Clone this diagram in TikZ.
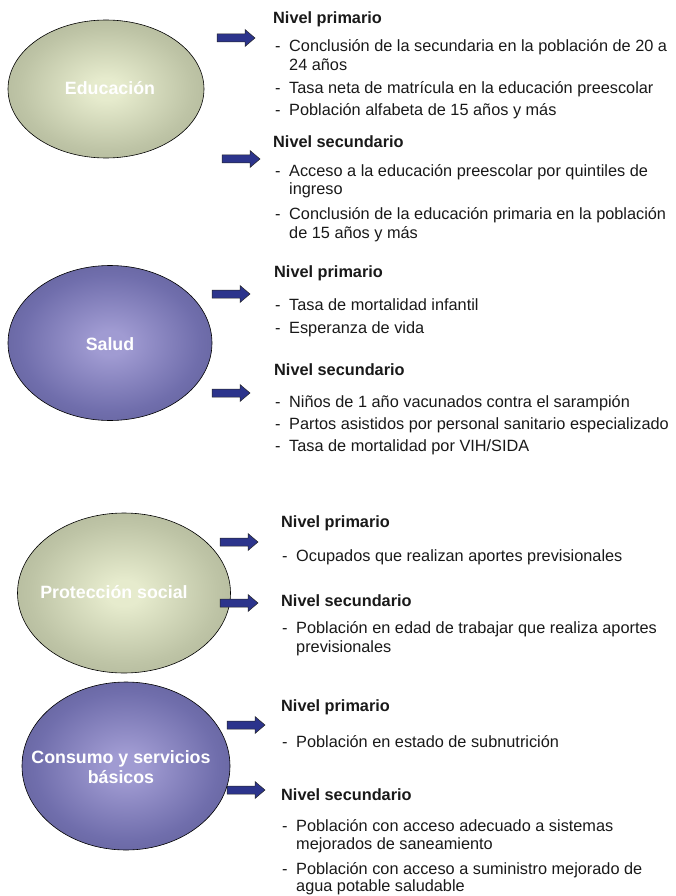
\documentclass[tikz,border=0pt]{standalone}
\usepackage{fontspec}
\setmainfont{Liberation Sans}
\usetikzlibrary{shapes.geometric}
\definecolor{olvIn}{RGB}{230,235,205}
\definecolor{olvMid}{RGB}{190,196,166}
\definecolor{olvOut}{RGB}{160,166,138}
\definecolor{purIn}{RGB}{160,155,210}
\definecolor{purMid}{RGB}{112,110,172}
\definecolor{purOut}{RGB}{84,84,136}
\definecolor{arrowblue}{RGB}{44,52,140}
\definecolor{txt}{RGB}{25,25,25}
\pgfdeclareradialshading{olvsh}{\pgfpoint{0bp}{0bp}}{color(0bp)=(olvIn); color(4bp)=(olvIn); color(22bp)=(olvMid); color(40bp)=(olvOut); color(50bp)=(olvOut)}
\pgfdeclareradialshading{pursh}{\pgfpoint{0bp}{0bp}}{color(0bp)=(purIn); color(4bp)=(purIn); color(22bp)=(purMid); color(40bp)=(purOut); color(50bp)=(purOut)}
\newcommand\bkarr[2]{\filldraw[arrowbox] (#1,#2) ++(0,-4) -- ++(28,0) -- ++(0,-4.5) -- ++(10,8.5) -- ++(-10,8.5) -- ++(0,-4.5) -- ++(-28,0) -- cycle;}
\newcommand\itm[1]{\makebox[14pt][l]{-}#1}
\begin{document}
\begin{tikzpicture}[x=1pt,y=-1pt,
  hd/.style={anchor=base west, inner sep=0, font=\fontsize{16.3}{19}\selectfont\bfseries, text=txt},
  it/.style={anchor=base west, inner sep=0, font=\fontsize{16.3}{19}\selectfont, text=txt},
  bub/.style={ellipse, draw=black, line width=0.6pt, inner sep=0},
  olv/.style={bub, shading=olvsh},
  pur/.style={bub, shading=pursh},
  btxt/.style={inner sep=0, text=white, font=\fontsize{17.8}{20}\selectfont\bfseries, align=center},
  arrowbox/.style={fill=arrowblue, draw=black!85, line width=0.5pt, line join=miter}
]
\useasboundingbox (0,0) rectangle (675,896);

% ---------- Educacion ----------
\node[olv, minimum width=196pt, minimum height=138pt] (edu) at (106,89) {};
\node[btxt] (edut) at (110,88) {Educación};
\bkarr{217}{38}
\bkarr{222}{159}
\node[hd] (e1) at (273,24) {Nivel primario};
\node[it] (e1a) at (275,52) {\itm{Conclusión de la secundaria en la población de 20 a}};
\node[it] (e1b) at (289,71) {24 años};
\node[it] (e1c) at (275,94) {\itm{Tasa neta de matrícula en la educación preescolar}};
\node[it] (e1d) at (275,116) {\itm{Población alfabeta de 15 años y más}};
\node[hd] (e2) at (273,148) {Nivel secundario};
\node[it] (e2a) at (275,177) {\itm{Acceso a la educación preescolar por quintiles de}};
\node[it] (e2b) at (289,194) {ingreso};
\node[it] (e2c) at (275,219) {\itm{Conclusión de la educación primaria en la población}};
\node[it] (e2d) at (289,238) {de 15 años y más};

% ---------- Salud ----------
\node[pur, minimum width=204pt, minimum height=155pt] (sal) at (110,343) {};
\node[btxt] (salt) at (110,344) {Salud};
\bkarr{212}{294}
\bkarr{212}{393}
\node[hd] (s1) at (274,277) {Nivel primario};
\node[it] (s1a) at (275,310) {\itm{Tasa de mortalidad infantil}};
\node[it] (s1b) at (275,333) {\itm{Esperanza de vida}};
\node[hd] (s2) at (274,375) {Nivel secundario};
\node[it] (s2a) at (275,407) {\itm{Niños de 1 año vacunados contra el sarampión}};
\node[it] (s2b) at (275,429) {\itm{Partos asistidos por personal sanitario especializado}};
\node[it] (s2c) at (275,451) {\itm{Tasa de mortalidad por VIH/SIDA}};

% ---------- Proteccion social ----------
\node[olv, minimum width=213pt, minimum height=160pt] (pro) at (124,593) {};
\node[btxt] (prot) at (114,592) {Protección social};
\bkarr{220}{542}
\bkarr{220}{603}
\node[hd] (p1) at (281,527) {Nivel primario};
\node[it] (p1a) at (282,561) {\itm{Ocupados que realizan aportes previsionales}};
\node[hd] (p2) at (281,606) {Nivel secundario};
\node[it] (p2a) at (282,633) {\itm{Población en edad de trabajar que realiza aportes}};
\node[it] (p2b) at (296,652) {previsionales};

% ---------- Consumo y servicios basicos ----------
\node[pur, minimum width=208pt, minimum height=168pt] (con) at (126,766) {};
\node[btxt] (cont) at (121,767) {Consumo y servicios\\básicos};
\bkarr{227}{725}
\bkarr{227}{790}
\node[hd] (c1) at (281,711) {Nivel primario};
\node[it] (c1a) at (282,747) {\itm{Población en estado de subnutrición}};
\node[hd] (c2) at (281,800) {Nivel secundario};
\node[it] (c2a) at (282,831) {\itm{Población con acceso adecuado a sistemas}};
\node[it] (c2b) at (296,849) {mejorados de saneamiento};
\node[it] (c2c) at (282,874) {\itm{Población con acceso a suministro mejorado de}};
\node[it] (c2d) at (296,891) {agua potable saludable};
\end{tikzpicture}
\end{document}
